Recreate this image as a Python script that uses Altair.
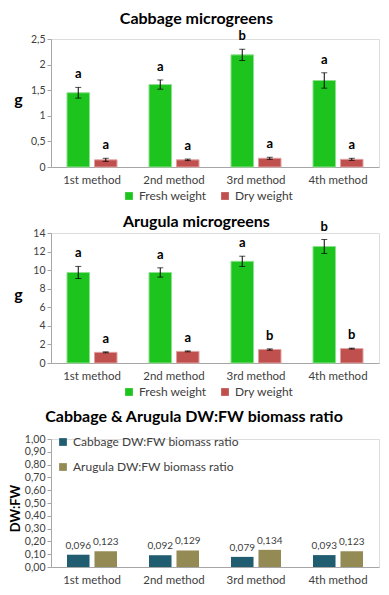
import altair as alt
import pandas as pd

methods = ["1st method", "2nd method", "3rd method", "4th method"]
weights = ["Fresh weight", "Dry weight"]

cab_fresh = [1.45, 1.61, 2.19, 1.69]
cab_fresh_err = [0.105, 0.09, 0.11, 0.15]
cab_dry = [0.14, 0.14, 0.17, 0.15]
cab_dry_err = [0.03, 0.015, 0.02, 0.02]
cab_fresh_let = ["a", "a", "b", "a"]
cab_dry_let = ["a", "a", "a", "a"]

aru_fresh = [9.75, 9.75, 10.95, 12.55]
aru_fresh_err = [0.65, 0.5, 0.55, 0.75]
aru_dry = [1.15, 1.25, 1.45, 1.55]
aru_dry_err = [0.05, 0.05, 0.07, 0.05]
aru_fresh_let = ["a", "a", "a", "b"]
aru_dry_let = ["a", "a", "b", "b"]

ratio_series = ["Cabbage DW:FW biomass ratio", "Arugula DW:FW biomass ratio"]
cab_ratio = [0.096, 0.092, 0.079, 0.093]
aru_ratio = [0.123, 0.129, 0.134, 0.123]

FONT = "Lato"
GRAY = "#a6a6a6"
TXT = "#404040"


def long_df(fresh, fresh_err, fresh_let, dry, dry_err, dry_let):
    rows = []
    for i, m in enumerate(methods):
        rows.append(dict(method=m, weight=weights[0], v=fresh[i], lo=fresh[i] - fresh_err[i],
                         hi=fresh[i] + fresh_err[i], letter=fresh_let[i]))
        rows.append(dict(method=m, weight=weights[1], v=dry[i], lo=dry[i] - dry_err[i],
                         hi=dry[i] + dry_err[i], letter=dry_let[i]))
    return pd.DataFrame(rows)


W = 328


def xaxis():
    return alt.Axis(ticks=False, domainColor=GRAY, labelFont=FONT, labelFontSize=11.5,
                    labelColor=TXT, labelPadding=7, labelAngle=0)


def weight_panel(df, title, ymax, ystep, h, lblexpr, toff):
    xenc = alt.X("method:N", sort=methods, title=None,
                 scale=alt.Scale(paddingInner=0.39, paddingOuter=0.195), axis=xaxis())
    xoff = alt.XOffset("weight:N", sort=weights, scale=alt.Scale(paddingInner=0.18, paddingOuter=0))
    base = alt.Chart(df).encode(x=xenc, xOffset=xoff)
    yscale = alt.Scale(domain=[0, ymax], nice=False)
    bars = base.mark_bar(strokeWidth=1).encode(
        y=alt.Y("v:Q", scale=yscale, title="g",
                axis=alt.Axis(values=[ystep * k for k in range(int(round(ymax / ystep)) + 1)],
                              tickCount=50, grid=False, domainColor=GRAY, tickColor=GRAY,
                              tickSize=4, labelOverlap=False,
                              labelFont=FONT, labelFontSize=10.5, labelColor=TXT, labelExpr=lblexpr,
                              titleFont=FONT, titleFontSize=16, titleFontWeight="bold",
                              titleAngle=0, titleX=-33, titleY=h / 2 - 4, titleAlign="center",
                              titleBaseline="middle", titleColor="black")),
        color=alt.Color("weight:N", sort=weights,
                        scale=alt.Scale(domain=weights, range=["#1ec41e", "#c0504d"]),
                        legend=alt.Legend(title=None, orient="none", direction="horizontal",
                                          legendX=72, legendY=h + 23, symbolType="square",
                                          symbolSize=60, labelFont=FONT, labelFontSize=12,
                                          labelColor=TXT, columnPadding=12, symbolStrokeWidth=0,
                                          labelLimit=300)),
        stroke=alt.Stroke("weight:N", sort=weights,
                          scale=alt.Scale(domain=weights, range=["#8ee08e", "#e0a0a0"]), legend=None),
    )
    rule = base.mark_rule(color="black", strokeWidth=1).encode(y=alt.Y("lo:Q", scale=yscale), y2="hi:Q")
    cap_lo = base.mark_tick(color="black", size=6, thickness=1).encode(y=alt.Y("lo:Q", scale=yscale))
    cap_hi = base.mark_tick(color="black", size=6, thickness=1).encode(y=alt.Y("hi:Q", scale=yscale))
    letters = base.mark_text(fontWeight="bold", font=FONT, fontSize=13, color="black",
                             baseline="bottom", dy=-6).encode(
        y=alt.Y("hi:Q", scale=yscale), text="letter:N")
    return alt.layer(bars, rule, cap_lo, cap_hi, letters).properties(
        width=W, height=h,
        title=alt.TitleParams(title, font=FONT, fontSize=16, fontWeight="bold", color="black",
                              anchor="middle", frame="bounds", offset=toff))


cab_df = long_df(cab_fresh, cab_fresh_err, cab_fresh_let, cab_dry, cab_dry_err, cab_dry_let)
aru_df = long_df(aru_fresh, aru_fresh_err, aru_fresh_let, aru_dry, aru_dry_err, aru_dry_let)

p1 = weight_panel(cab_df, "Cabbage microgreens", 2.5, 0.5, 128,
                  "replace(toString(datum.value), '.', ',')", 3)
p2 = weight_panel(aru_df, "Arugula microgreens", 14, 2, 130,
                  "replace(toString(datum.value), '.', ',')", -9)

rrows = []
for i, m in enumerate(methods):
    rrows.append(dict(method=m, s=ratio_series[0], v=cab_ratio[i]))
    rrows.append(dict(method=m, s=ratio_series[1], v=aru_ratio[i]))
rdf = pd.DataFrame(rrows)
rdf["lbl"] = rdf["v"].map(lambda x: f"{x:.3f}".replace(".", ","))

RH = 128
rbase = alt.Chart(rdf).encode(
    x=alt.X("method:N", sort=methods, title=None,
            scale=alt.Scale(paddingInner=0.39, paddingOuter=0.195), axis=xaxis()),
    xOffset=alt.XOffset("s:N", sort=ratio_series, scale=alt.Scale(paddingInner=0.18, paddingOuter=0)),
)
rscale = alt.Scale(domain=[0, 1], nice=False)
rbars = rbase.mark_bar().encode(
    y=alt.Y("v:Q", scale=rscale, title="DW:FW",
            axis=alt.Axis(values=[k / 10 for k in range(11)], tickCount=50, grid=False,
                          domainColor=GRAY, tickColor=GRAY, tickSize=4, labelFont=FONT,
                          labelFontSize=10.5, labelColor=TXT, labelOverlap=False,
                          labelExpr="replace(format(datum.value, '.2f'), '.', ',')",
                          titleFont=FONT, titleFontSize=13, titleFontWeight="bold",
                          titleColor="black", titleX=-36, titleY=RH / 2 + 5, titleAlign="center",
                          titleBaseline="middle")),
    color=alt.Color("s:N", sort=ratio_series,
                    scale=alt.Scale(domain=ratio_series, range=["#215d70", "#948a54"]),
                    legend=alt.Legend(title=None, orient="none", direction="vertical",
                                      legendX=6, legendY=-3, symbolType="square", symbolSize=60,
                                      labelFont=FONT, labelFontSize=12, labelColor=TXT,
                                      rowPadding=13, symbolStrokeWidth=0, labelLimit=300)),
)
rtext = rbase.mark_text(font=FONT, fontSize=10, color=TXT, baseline="bottom", dy=-4).encode(
    y=alt.Y("v:Q", scale=rscale), text="lbl:N")
p3 = alt.layer(rbars, rtext).properties(
    width=W, height=RH,
    title=alt.TitleParams("Cabbage & Arugula  DW:FW biomass ratio", font=FONT, fontSize=16,
                          fontWeight="bold", color="black", anchor="middle", frame="bounds",
                          offset=9))

chart = alt.vconcat(p1, p2, p3, spacing=9).resolve_scale(
    color="independent", stroke="independent", x="independent", y="independent",
    xOffset="independent").configure_view(stroke=None).configure(
    padding={"left": 0, "top": 2, "right": 0, "bottom": 0})

chart.save("out.html", embed_options={"renderer": "svg", "actions": False})
